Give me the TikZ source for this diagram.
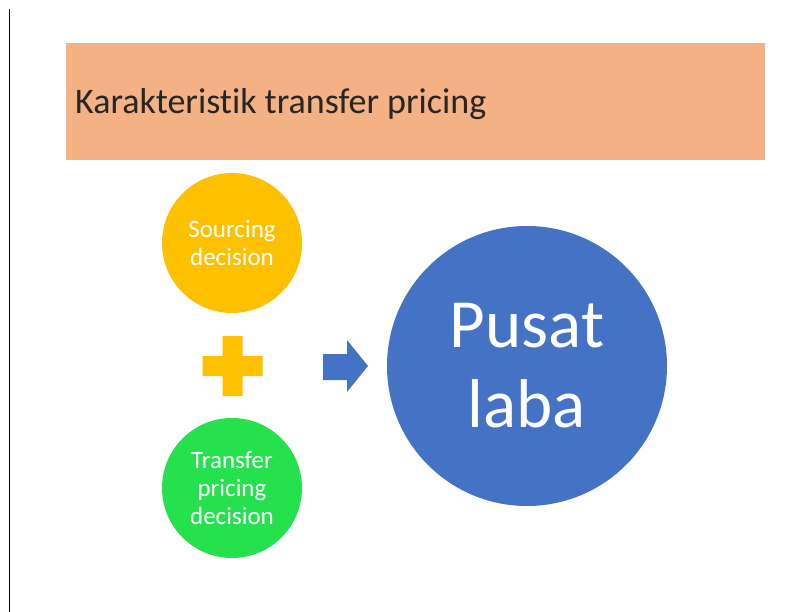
\documentclass[tikz,border=0pt]{standalone}
\usepackage{fontspec}
\setmainfont{Carlito}[Ligatures=NoCommon]
\definecolor{titlebg}{HTML}{F4B183}
\definecolor{ygold}{HTML}{FFC000}
\definecolor{lgreen}{HTML}{25E14E}
\definecolor{mblue}{HTML}{4472C4}
\tikzset{
  smallcirc/.style={circle, minimum size=140pt, inner sep=0pt, align=center, text=white,
    font=\fontsize{25}{28}\selectfont},
  bigcirc/.style={circle, minimum size=280pt, inner sep=0pt, align=center, text=white, fill=mblue,
    font=\fontsize{69}{80}\selectfont},
}
\begin{document}
\begin{tikzpicture}[x=1pt,y=-1pt]
\useasboundingbox (0,0) rectangle (811,612);
\fill[white] (0,0) rectangle (811,612);
\draw[line width=1pt] (9.5,9) -- (9.5,612);
\fill[titlebg] (66,43) rectangle (765,160);
\node[anchor=base west, inner sep=0pt, font=\fontsize{36}{43}\selectfont, text=black!85] (title) at (75,114) {Karakteristik transfer pricing};
\node[smallcirc, fill=ygold] (src) at (232,243) {Sourcing\\decision};
\node[smallcirc, fill=lgreen] (tp) at (232,488) {Transfer\\pricing\\decision};
\node[bigcirc] (pl) at (527,366) {Pusat\\laba};
\fill[ygold] (222.5,336) -- (242.5,336) -- (242.5,356) -- (262.5,356) -- (262.5,376) -- (242.5,376)
  -- (242.5,396) -- (222.5,396) -- (222.5,376) -- (202.5,376) -- (202.5,356) -- (222.5,356) -- cycle;
\fill[mblue] (323,354) -- (347,354) -- (347,340) -- (368,366) -- (347,392) -- (347,380) -- (323,380) -- cycle;
\end{tikzpicture}
\end{document}
